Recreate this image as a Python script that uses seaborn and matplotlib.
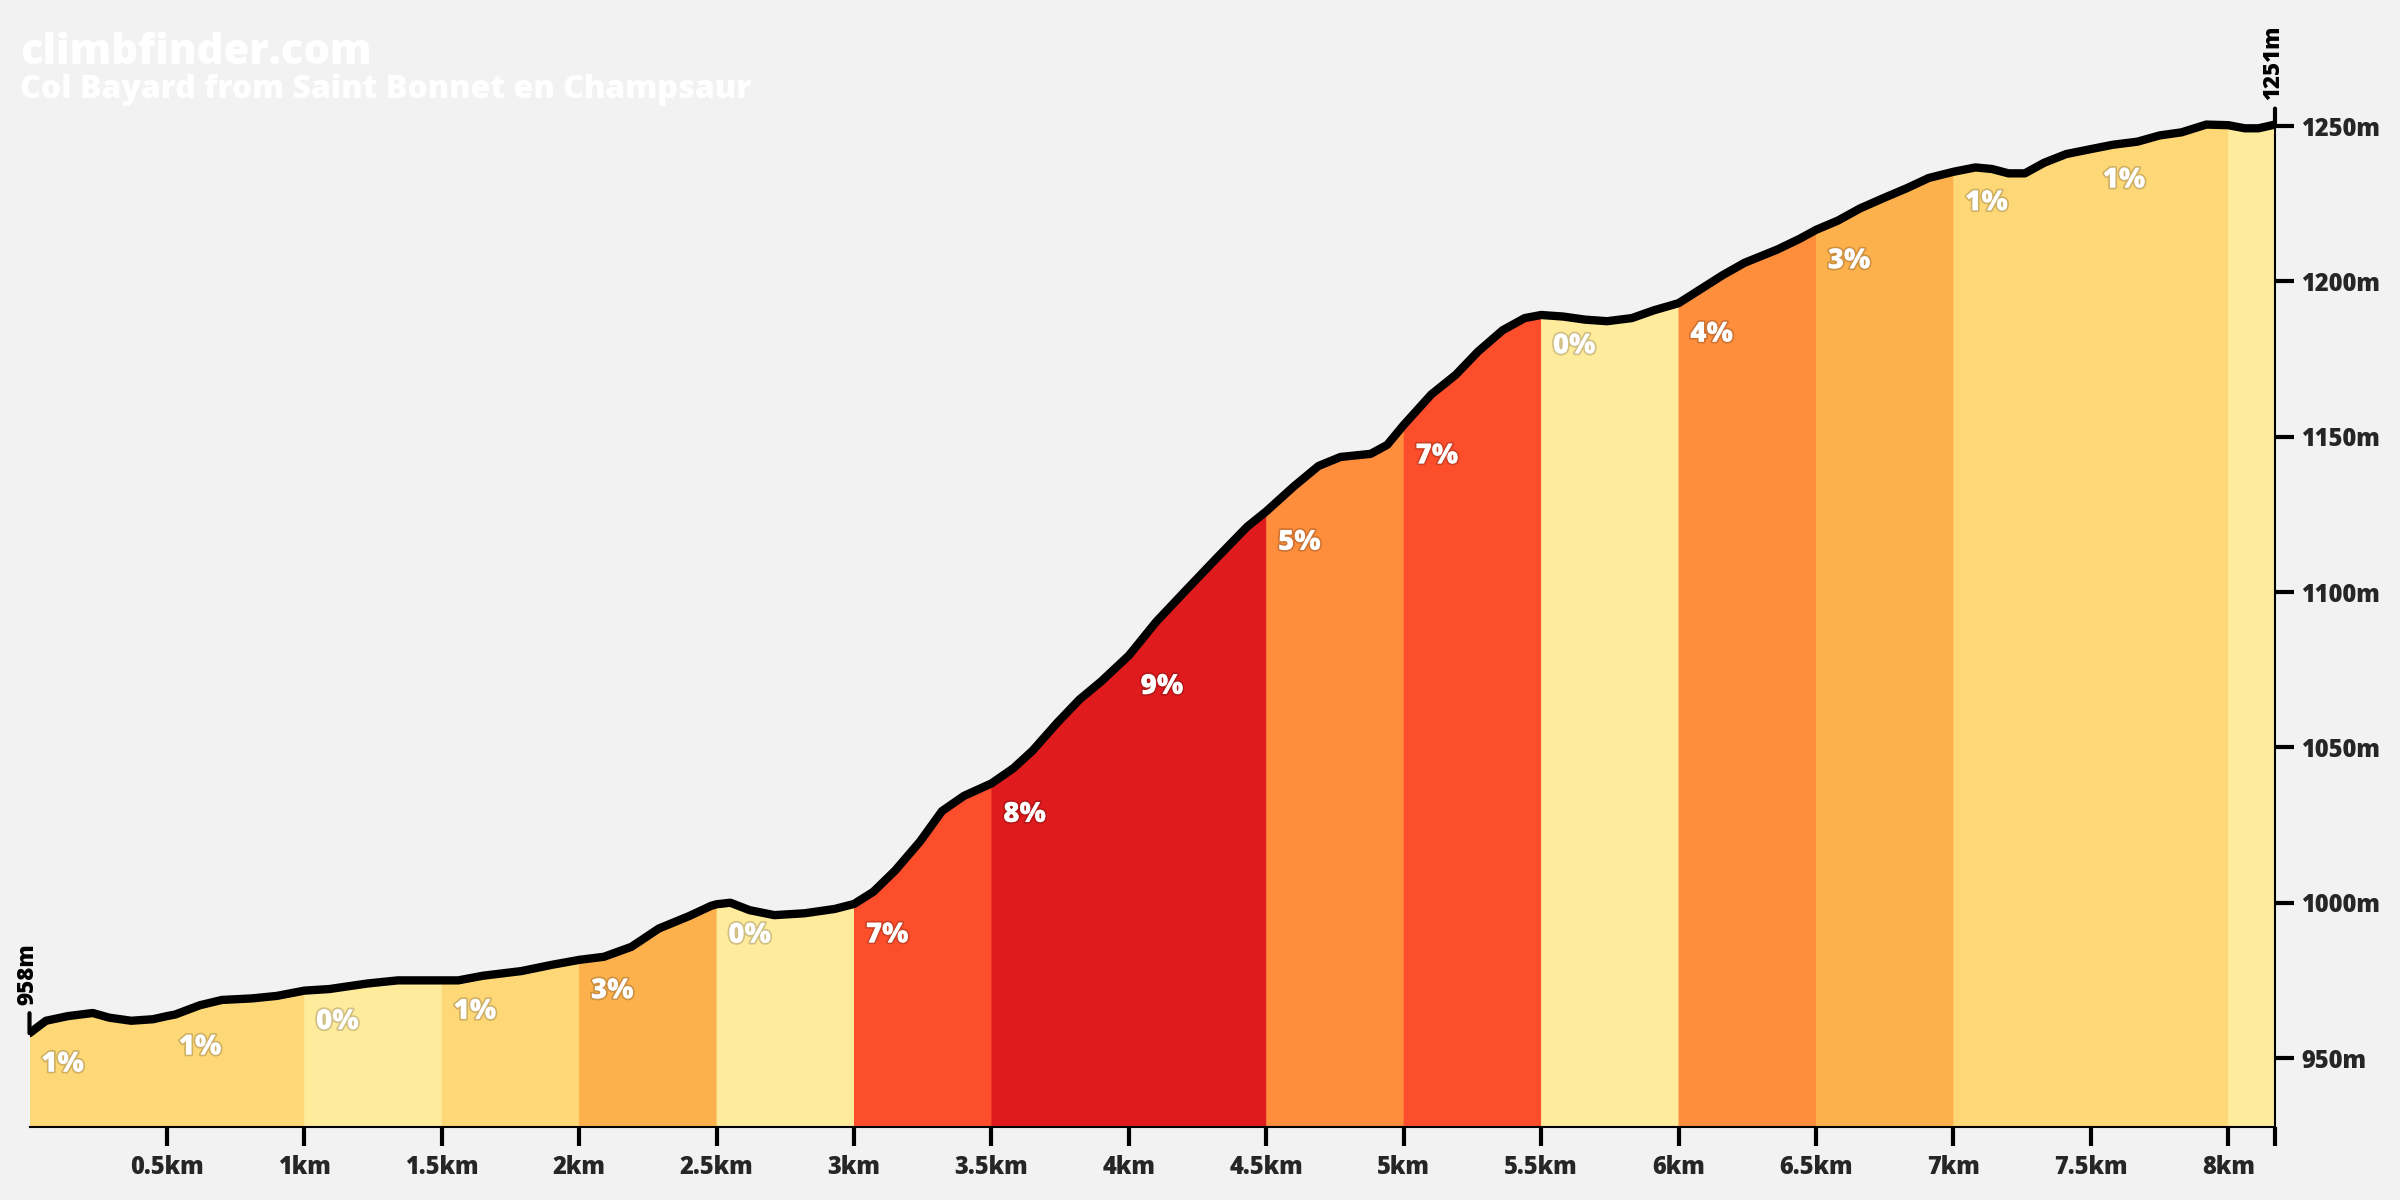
import numpy as np
import matplotlib
matplotlib.use("Agg")
import matplotlib.pyplot as plt
import matplotlib.patheffects as pe
import seaborn as sns

# ---------------- data ----------------
distance_km = [0.00, 0.06, 0.14, 0.23, 0.29, 0.37, 0.45, 0.50, 0.53, 0.62, 0.70, 0.81, 0.90,
               1.00, 1.09, 1.23, 1.34, 1.48, 1.50, 1.56, 1.65, 1.79, 1.90,
               2.00, 2.09, 2.19, 2.29, 2.40, 2.48, 2.50, 2.55, 2.62, 2.71, 2.82, 2.93,
               3.00, 3.07, 3.15, 3.24, 3.32, 3.40, 3.50, 3.58, 3.65, 3.74, 3.82, 3.90,
               4.00, 4.10, 4.21, 4.32, 4.43, 4.50, 4.60, 4.69, 4.77, 4.88, 4.94,
               5.00, 5.10, 5.19, 5.27, 5.36, 5.44, 5.50, 5.58, 5.66, 5.74, 5.83, 5.91,
               6.00, 6.08, 6.16, 6.24, 6.36, 6.44, 6.50, 6.58, 6.66, 6.75, 6.83, 6.91,
               7.00, 7.08, 7.14, 7.20, 7.26, 7.33, 7.41, 7.50, 7.58, 7.67, 7.75, 7.83, 7.92,
               8.00, 8.06, 8.11, 8.17]
elevation_m = [958, 962, 963.5, 964.5, 963, 962, 962.5, 963.5, 964, 967, 968.7, 969.2, 970,
               971.7, 972.2, 974, 975, 975, 975, 975, 976.5, 978, 980,
               981.6, 982.6, 985.8, 991.7, 995.7, 999, 999.5, 1000, 997.6, 996, 996.6, 998,
               999.6, 1003.5, 1010.4, 1019.7, 1029.5, 1034.4, 1038.4, 1043.3, 1049, 1058, 1065.4, 1071.3,
               1079.6, 1090.5, 1100.8, 1111, 1121, 1126, 1134, 1140.6, 1143.5, 1144.5, 1147.4,
               1153.8, 1163.6, 1170, 1177.4, 1184.3, 1188.2, 1189.2, 1188.7, 1187.7, 1187.2, 1188.2, 1190.7,
               1193, 1197.5, 1202, 1206, 1210.3, 1213.7, 1216.6, 1219.6, 1223.5, 1227, 1230, 1233.3,
               1235.3, 1236.7, 1236.2, 1234.8, 1234.8, 1238.2, 1241, 1242.6, 1244, 1245, 1247, 1248, 1250.5,
               1250.3, 1249.3, 1249.3, 1250.5]

segment_start_km = [0.0, 0.5, 1.0, 1.5, 2.0, 2.5, 3.0, 3.5, 4.0, 4.5, 5.0, 5.5, 6.0, 6.5, 7.0, 7.5, 8.0]
segment_end_km = [0.5, 1.0, 1.5, 2.0, 2.5, 3.0, 3.5, 4.0, 4.5, 5.0, 5.5, 6.0, 6.5, 7.0, 7.5, 8.0, 8.17]
segment_gradient = [1, 1, 0, 1, 3, 0, 7, 8, 9, 5, 7, 0, 4, 3, 1, 1, 0]
segment_labelled = [True] * 16 + [False]

xtick_km = [0.5, 1, 1.5, 2, 2.5, 3, 3.5, 4, 4.5, 5, 5.5, 6, 6.5, 7, 7.5, 8, 8.17]
xtick_labels = ["0.5km", "1km", "1.5km", "2km", "2.5km", "3km", "3.5km", "4km", "4.5km",
                "5km", "5.5km", "6km", "6.5km", "7km", "7.5km", "8km", ""]
ytick_m = [950, 1000, 1050, 1100, 1150, 1200, 1250]
ytick_labels = ["950m", "1000m", "1050m", "1100m", "1150m", "1200m", "1250m"]

start_label = "958m"
end_label = "1251m"
site_title = "climbfinder.com"
climb_title = "Col Bayard from Saint Bonnet en Champsaur"

gradient_colors = {0: "#FFEB9C", 1: "#FED877", 2: "#FED877", 3: "#FDB14C", 4: "#FE8D3C",
                   5: "#FE8D3C", 6: "#FD4E2C", 7: "#FD4E2C", 8: "#E01B1E", 9: "#E01B1E"}

# ---------------- style ----------------
sns.set_style("white")
plt.rcParams["font.family"] = ["Open Sans", "DejaVu Sans"]
BG = "#F2F2F2"
W = "heavy"

fig = plt.figure(figsize=(24, 12), dpi=100, facecolor=BG)
ax = fig.add_axes([29.5 / 2400, 1 - 1127 / 1200, (2275 - 29.5) / 2400, 1127 / 1200])
ax.set_facecolor(BG)

ymin, ymax = 927.8, 1290.6
ax.set_xlim(0, 8.17)
ax.set_ylim(ymin, ymax)

d = np.array(distance_km)
e = np.array(elevation_m)

for s, en, g, lab in zip(segment_start_km, segment_end_km, segment_gradient, segment_labelled):
    mask = (d >= s - 1e-9) & (d <= en + 1e-9)
    col = gradient_colors[g]
    ax.fill_between(d[mask], e[mask], ymin, facecolor=col, edgecolor=col, lw=0.8, zorder=1)
    if lab:
        e0 = e[np.argmin(np.abs(d - s))]
        ax.annotate(f"{g}%", xy=(s + 0.12, e0), xytext=(0, -31), textcoords="offset pixels",
                    ha="center", va="center", color="white", fontsize=20, fontweight=W,
                    zorder=4,
                    path_effects=[pe.withStroke(linewidth=2.5, foreground=(0, 0, 0, 0.18))])

sns.lineplot(x=distance_km, y=elevation_m, ax=ax, color="black", lw=6, sort=False,
             zorder=3, solid_capstyle="round", solid_joinstyle="round")

# axes styling
for side in ["top", "left"]:
    ax.spines[side].set_visible(False)
ax.spines["bottom"].set_color("black")
ax.spines["bottom"].set_linewidth(1.5)
ax.spines["right"].set_color("black")
ax.spines["right"].set_linewidth(1.5)
ax.spines["right"].set_bounds(ymin, elevation_m[-1])
ax.spines["bottom"].set_zorder(5)

ax.set_xticks(xtick_km)
ax.set_xticklabels(xtick_labels)
ax.yaxis.tick_right()
ax.set_yticks(ytick_m)
ax.set_yticklabels(ytick_labels)
ax.tick_params(axis="x", direction="out", length=14, width=3, color="black", pad=6,
               labelsize=17, bottom=True)
ax.tick_params(axis="y", direction="out", length=14, width=3, color="black", pad=5,
               labelsize=17, right=True, left=False)
for t in ax.get_xticklabels() + ax.get_yticklabels():
    t.set_fontweight(W)
ax.set_xlabel("")
ax.set_ylabel("")

# start / end elevation markers
ax.annotate("", xy=(distance_km[0], elevation_m[0]), xytext=(0, 20), textcoords="offset pixels",
            arrowprops=dict(arrowstyle="-", lw=3, color="black", shrinkA=0, shrinkB=0), zorder=6,
            annotation_clip=False)
ax.annotate(start_label, xy=(distance_km[0], elevation_m[0]), xytext=(-2, 28),
            textcoords="offset pixels", rotation=90, ha="center", va="bottom",
            fontsize=16, fontweight=W, color="black", annotation_clip=False)
ax.annotate("", xy=(distance_km[-1], elevation_m[-1]), xytext=(0, 16), textcoords="offset pixels",
            arrowprops=dict(arrowstyle="-", lw=3, color="black", shrinkA=0, shrinkB=0), zorder=6,
            annotation_clip=False)
ax.annotate(end_label, xy=(distance_km[-1], elevation_m[-1]), xytext=(-2, 25),
            textcoords="offset pixels", rotation=90, ha="center", va="bottom",
            fontsize=16, fontweight=W, color="black", annotation_clip=False)

# titles
fig.text(20 / 2400, 1 - 64 / 1200, site_title, color="white", fontsize=30, fontweight=W,
         ha="left", va="baseline")
fig.text(20 / 2400, 1 - 98 / 1200, climb_title, color="white", fontsize=23, fontweight=W,
         ha="left", va="baseline")

fig.savefig("out.png", dpi=100, facecolor=BG)
